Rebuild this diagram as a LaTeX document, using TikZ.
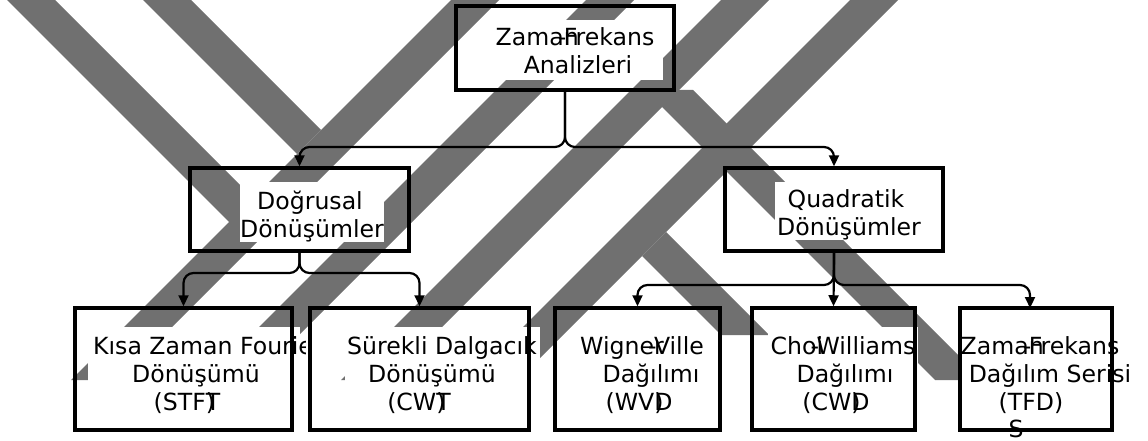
\documentclass[tikz,border=0pt]{standalone}
\usepackage{fontspec}
\setmainfont{DejaVu Sans}
\usetikzlibrary{arrows.meta,calc}
\definecolor{wm}{RGB}{112,112,112}
\tikzset{
  box/.style={draw, line width=3.5pt, inner sep=0pt},
  bg/.style={fill=white, draw=none, inner sep=0pt},
  txt/.style={inner xsep=1pt, inner ysep=1.5pt, text height=18pt, text depth=6pt, anchor=base, font=\fontsize{23.6pt}{28pt}\selectfont},
  arr/.style={line width=2.2pt, rounded corners=10pt, -{Triangle[length=11pt,width=10pt]}},
}
\begin{document}
\begin{tikzpicture}[x=1pt,y=-1pt]
\useasboundingbox (0,0) rectangle (1148,441);
% watermark
\fill[wm] (7,0) -- (55,0) -- (277,222) -- (229,222) -- cycle;
\fill[wm] (143,0) -- (191,0) -- (321,130) -- (297,154) -- cycle;
\fill[wm] (451,0) -- (499,0) -- (119,380) -- (71,380) -- cycle;
\fill[wm] (586,0) -- (634,0) -- (254,380) -- (206,380) -- cycle;
\fill[wm] (721,0) -- (769,0) -- (389,380) -- (341,380) -- cycle;
\fill[wm] (850,0) -- (898,0) -- (518,380) -- (470,380) -- cycle;
\fill[wm] (645,90) -- (693,90) -- (983,380) -- (935,380) -- cycle;
\fill[wm] (666,232) -- (642,256) -- (721,335) -- (769,335) -- cycle;
% text backgrounds
\node[bg, minimum width=170pt, minimum height=60pt] (bg1) at (578,50) {};
\node[bg, minimum width=144pt, minimum height=60pt] (bg2) at (312,212) {};
\node[bg, minimum width=148pt, minimum height=58pt] (bg3) at (849,211) {};
\node[bg, minimum width=212pt, minimum height=88pt] (bg4) at (194,371) {};
\node[bg, minimum width=195pt, minimum height=88pt] (bg5) at (442.5,371) {};
\node[bg, minimum width=129pt, minimum height=88pt] (bg6) at (642.5,371) {};
\node[bg, minimum width=150pt, minimum height=88pt] (bg7) at (843,371) {};
\node[bg, minimum width=177pt, minimum height=88pt] (bg8) at (1046.5,371) {};
% texts
\node[txt] (t1a) at (575,46) {Zama\rlap{n}\rlap{\kern-0.25em-}Frekans};
\node[txt] (t1b) at (578,74) {Analizleri};
\node[txt] (t2a) at (310,209) {Doğrusal};
\node[txt] (t2b) at (312,237) {Dönüşümler};
\node[txt] (t3a) at (846,207) {Quadratik};
\node[txt] (t3b) at (849,235) {Dönüşümler};
\begin{scope}
\clip (0,300) rectangle (305,441);
\node[txt, anchor=base west] (t4a) at (92,354) {Kısa Zaman Fourier};
\end{scope}
\node[txt] (t4b) at (196,382) {Dönüşümü};
\node[txt] (t4c) at (187,410) {(STF\rlap{)}T};
\node[txt] (t5a) at (442,354) {Sürekli Dalgacık};
\node[txt] (t5b) at (432,382) {Dönüşümü};
\node[txt] (t5c) at (419,410) {(CW\rlap{)}T};
\node[txt] (t6a) at (642,354) {Wigne\rlap{r}\rlap{\kern-0.25em-}Ville};
\node[txt] (t6b) at (651,382) {Dağılımı};
\node[txt] (t6c) at (639,410) {(WV\rlap{)}D};
\node[txt] (t7a) at (843,354) {Cho\rlap{i}\rlap{\kern-0.25em-}Williams};
\node[txt] (t7b) at (845,382) {Dağılımı};
\node[txt] (t7c) at (836,410) {(CW\rlap{)}D};
\node[txt] (t8a) at (1040,354) {Zama\rlap{n}\rlap{\kern-0.25em-}Frekans};
\node[txt] (t8b) at (1050,382) {Dağılım Serisi};
\node[txt] (t8c) at (1031,410) {(TFD)};
% boxes
\node[box, minimum width=218pt, minimum height=84pt] (top) at (565,48) {};
\node[box, minimum width=219pt, minimum height=83pt] (dog) at (299.5,209.5) {};
\node[box, minimum width=218pt, minimum height=83pt] (qua) at (834,209.5) {};
\node[box, minimum width=217pt, minimum height=122pt] (kisa) at (183.5,369) {};
\node[box, minimum width=219pt, minimum height=122pt] (sur) at (419.5,369) {};
\node[box, minimum width=165pt, minimum height=122pt] (wig) at (637.5,369) {};
\node[box, minimum width=163pt, minimum height=122pt] (choi) at (833.5,369) {};
\node[box, minimum width=152pt, minimum height=122pt] (tfd) at (1036,369) {};
\node[txt] (t8d) at (1016,437) {S};
% connectors
\coordinate (j1) at (565,147);
\coordinate (j2) at (300,273);
\coordinate (j3) at (834,285);
\coordinate (tfdin) at (1030,308);
\draw[arr] (top.south) |- (dog.north |- j1) -- (dog.north);
\draw[arr] (top.south) |- (qua.north |- j1) -- (qua.north);
\draw[arr] (dog.south) |- (kisa.north |- j2) -- (kisa.north);
\draw[arr] (dog.south) |- (sur.north |- j2) -- (sur.north);
\draw[arr] (qua.south) |- (wig.north |- j3) -- (wig.north);
\draw[arr] (qua.south) -- (choi.north);
\draw[arr] (qua.south) |- (tfdin |- j3) -- (tfdin);
\end{tikzpicture}
\end{document}
